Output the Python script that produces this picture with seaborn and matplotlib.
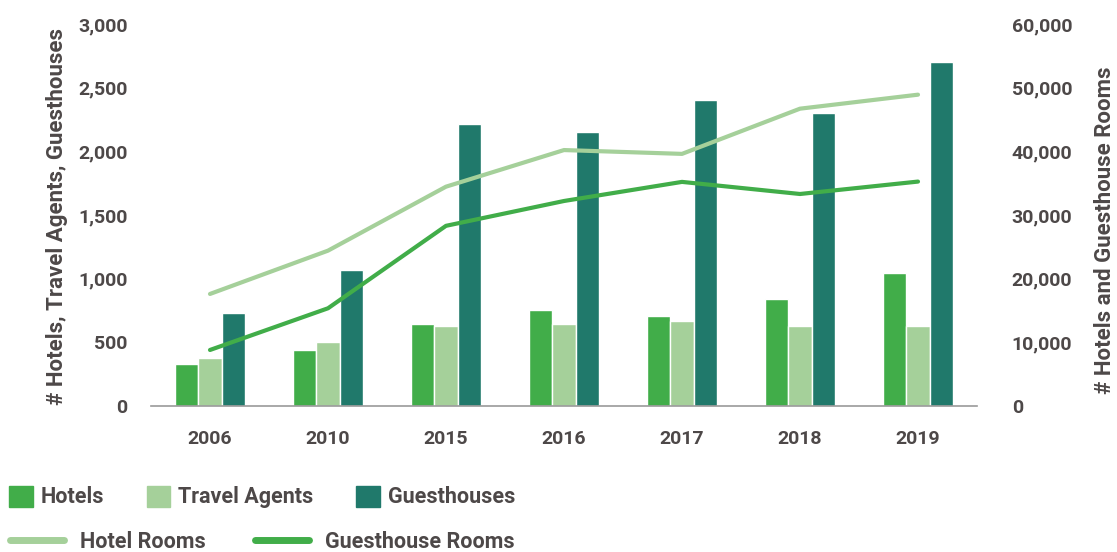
import matplotlib
matplotlib.use("Agg")
import matplotlib.pyplot as plt
from matplotlib.patches import Patch
from matplotlib.lines import Line2D
from matplotlib.ticker import FuncFormatter
import seaborn as sns
import pandas as pd
import numpy as np

years = ["2006", "2010", "2015", "2016", "2017", "2018", "2019"]
hotels = [330, 440, 645, 755, 708, 840, 1045]
travel_agents = [378, 503, 628, 645, 668, 628, 628]
guesthouses = [728, 1068, 2215, 2152, 2404, 2301, 2702]
hotel_rooms = [17600, 24400, 34450, 40200, 39600, 46700, 48900]
guesthouse_rooms = [8800, 15350, 28300, 32200, 35200, 33300, 35250]

TEXT = "#4d4848"
C_HOTEL = "#41ad49"
C_AGENT = "#a5d09a"
C_GUEST = "#20796b"

sns.set_style("white")
plt.rcParams["font.family"] = ["Roboto", "DejaVu Sans"]
plt.rcParams["font.weight"] = 600
plt.rcParams["text.color"] = TEXT
plt.rcParams["axes.labelcolor"] = TEXT
plt.rcParams["axes.labelweight"] = 600
plt.rcParams["xtick.color"] = TEXT
plt.rcParams["ytick.color"] = TEXT

bars = pd.DataFrame({
    "year": years * 3,
    "kind": ["Hotels"] * 7 + ["Travel Agents"] * 7 + ["Guesthouses"] * 7,
    "count": hotels + travel_agents + guesthouses,
})
rooms = pd.DataFrame({
    "pos": list(range(7)) * 2,
    "kind": ["Hotel Rooms"] * 7 + ["Guesthouse Rooms"] * 7,
    "rooms": hotel_rooms + guesthouse_rooms,
})

fig = plt.figure(figsize=(11.17, 5.52), dpi=100)
ax = fig.add_axes([151 / 1117, 1 - 406 / 552, 826 / 1117, 382 / 552])

sns.barplot(data=bars, x="year", y="count", hue="kind",
            palette=[C_HOTEL, C_AGENT, C_GUEST], width=0.585,
            saturation=1, legend=False, ax=ax)
xlim = ax.get_xlim()
ax.set_ylim(0, 3000)
ax.set_yticks(np.arange(0, 3001, 500))
ax.yaxis.set_major_formatter(FuncFormatter(lambda v, p: f"{v:,.0f}"))
ax.set_xlabel("")
ax.set_ylabel("# Hotels, Travel Agents, Guesthouses", fontsize=16)
ax.yaxis.set_label_coords(-0.1, 0.495)
ax.tick_params(axis="y", length=0, pad=17, labelsize=14)
ax.tick_params(axis="x", length=0, pad=17, labelsize=14)

ax2 = ax.twinx()
sns.lineplot(data=rooms, x="pos", y="rooms", hue="kind",
             palette=[C_AGENT, C_HOTEL], linewidth=3.0, legend=False,
             solid_capstyle="round", ax=ax2)
ax2.set_xlim(xlim)
ax2.set_ylim(0, 60000)
ax2.set_yticks(np.arange(0, 60001, 10000))
ax2.yaxis.set_major_formatter(FuncFormatter(lambda v, p: f"{v:,.0f}"))
ax2.set_ylabel("# Hotels and Guesthouse Rooms", fontsize=16)
ax2.yaxis.set_label_coords(1.142, 0.46)
ax2.tick_params(axis="y", length=0, pad=25, labelsize=14)

for a in (ax, ax2):
    for side in ("top", "left", "right"):
        a.spines[side].set_visible(False)
ax.spines["bottom"].set_color("#9a9a9a")
ax.spines["bottom"].set_linewidth(1.2)
ax2.spines["bottom"].set_visible(False)

bar_handles = [Patch(color=C_HOTEL, label="Hotels"),
               Patch(color=C_AGENT, label="Travel Agents"),
               Patch(color=C_GUEST, label="Guesthouses")]
fig.legend(handles=bar_handles, loc="center left", ncol=3,
           bbox_to_anchor=(9 / 1117, 1 - 497 / 552), frameon=False,
           fontsize=15.5, handlelength=1.1, handleheight=1.15,
           handletextpad=0.35, columnspacing=2.0, borderpad=0, borderaxespad=0)
line_handles = [Line2D([], [], color=C_AGENT, lw=5, solid_capstyle="round", label="Hotel Rooms"),
                Line2D([], [], color=C_HOTEL, lw=5, solid_capstyle="round", label="Guesthouse Rooms")]
fig.legend(handles=line_handles, loc="center left", ncol=2,
           bbox_to_anchor=(10 / 1117, 1 - 542 / 552), frameon=False,
           fontsize=15.5, handlelength=2.5, handletextpad=0.75,
           columnspacing=2.3, borderpad=0, borderaxespad=0)

fig.savefig("out.png", dpi=100)
